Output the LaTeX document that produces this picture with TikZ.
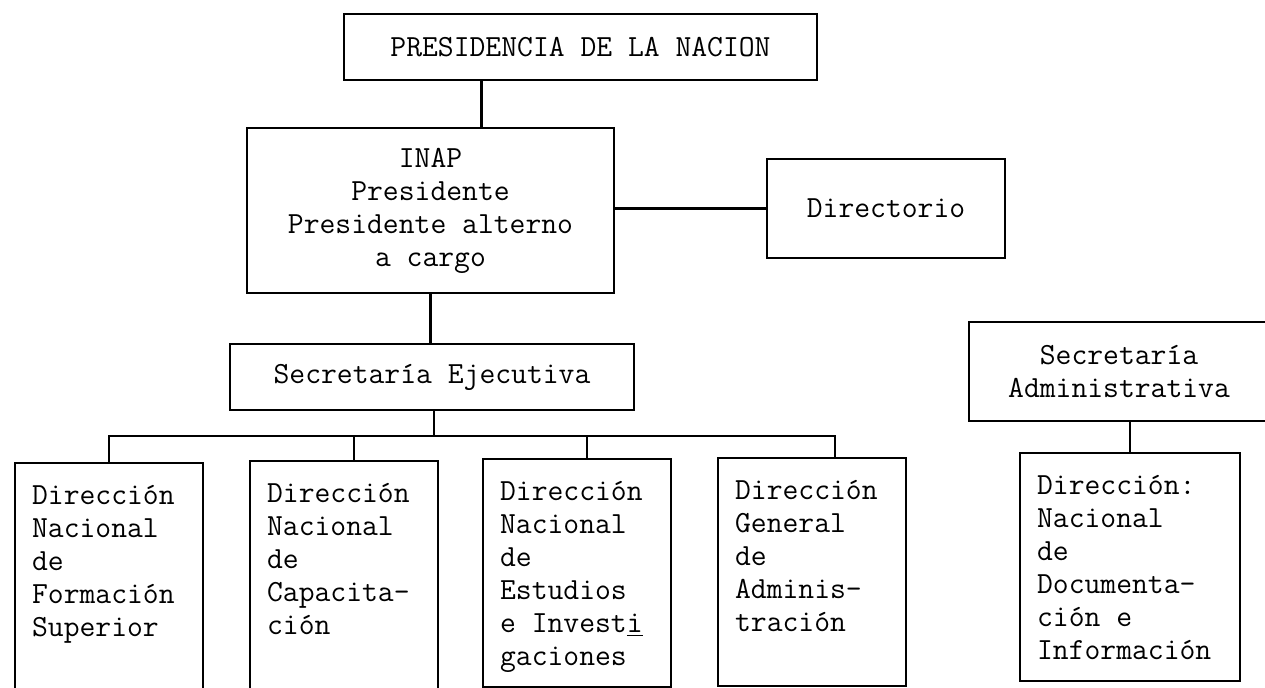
\documentclass[tikz,border=0pt]{standalone}
\usetikzlibrary{positioning}

% top-aligned text block for the lower boxes
\newcommand{\dirlines}[2][3.08cm]{\parbox[t][3.66cm][t]{#1}{#2}}

\begin{document}
\begin{tikzpicture}[
  x=0.02cm, y=-0.02cm,
  line width=1.3pt,
  office/.style={draw, align=center, inner sep=0pt, font=\fontsize{17.5}{18.8}\selectfont\ttfamily},
  dirbox/.style={draw, anchor=north west, inner xsep=0.34cm, inner ysep=0.45cm, font=\fontsize{17.5}{18.8}\selectfont\ttfamily}
]
\useasboundingbox (0,0) rectangle (1265,688);

% Top levels
\node[office, minimum width=9.46cm, minimum height=1.32cm] (pres) at (580.5, 47) {PRESIDENCIA DE LA NACION};
\node[office, minimum width=7.34cm, minimum height=3.3cm] (inap) at (430.5, 210.5) {INAP\\Presidente\\Presidente alterno\\a cargo};
\node[office, minimum width=4.76cm, minimum height=1.98cm] (dir) at (886, 208.5) {Directorio};
\node[office, minimum width=8.08cm, minimum height=1.32cm] (secej) at (432, 377) {Secretaría Ejecutiva};
\node[office, minimum width=6cm, minimum height=1.98cm] (secadm) at (1119, 371.5) {Secretaría\\Administrativa};

% Direcciones (left to right)
\node[dirbox] (d1) at (14, 462) {\dirlines{Dirección\\Nacional\\de\\Formación\\Superior}};
\node[dirbox] (d2) at (249, 460) {\dirlines{Dirección\\Nacional\\de\\Capacita-\\ción}};
\node[dirbox] (d3) at (482, 458) {\dirlines{Dirección\\Nacional\\de\\Estudios\\e Invest\underline{i}\\gaciones}};
\node[dirbox] (d4) at (717, 457) {\dirlines{Dirección\\General\\de\\Adminis-\\tración}};
\node[dirbox] (d5) at (1019, 452) {\dirlines[3.72cm]{Dirección:\\Nacional\\de\\Documenta-\\ción e\\Información}};

% Connectors
\coordinate (bus) at (434, 436);
\draw ([xshift=-1.98cm]pres.south) -- ([xshift=-1.98cm]pres.south |- inap.north);
\draw (dir.west -| inap.east) -- (dir.west);
\draw (inap.south) -- (inap.south |- secej.north);
\draw (bus |- secej.south) -- (bus);
\draw (d1.north) |- ([xshift=0.46cm]d4.north |- bus) -- ([xshift=0.46cm]d4.north);
\draw ([xshift=0.2cm]d2.north) -- ([xshift=0.2cm]d2.north |- bus);
\draw ([xshift=0.2cm]d3.north) -- ([xshift=0.2cm]d3.north |- bus);
\draw (d5.north |- secadm.south) -- (d5.north);

\end{tikzpicture}
\end{document}
